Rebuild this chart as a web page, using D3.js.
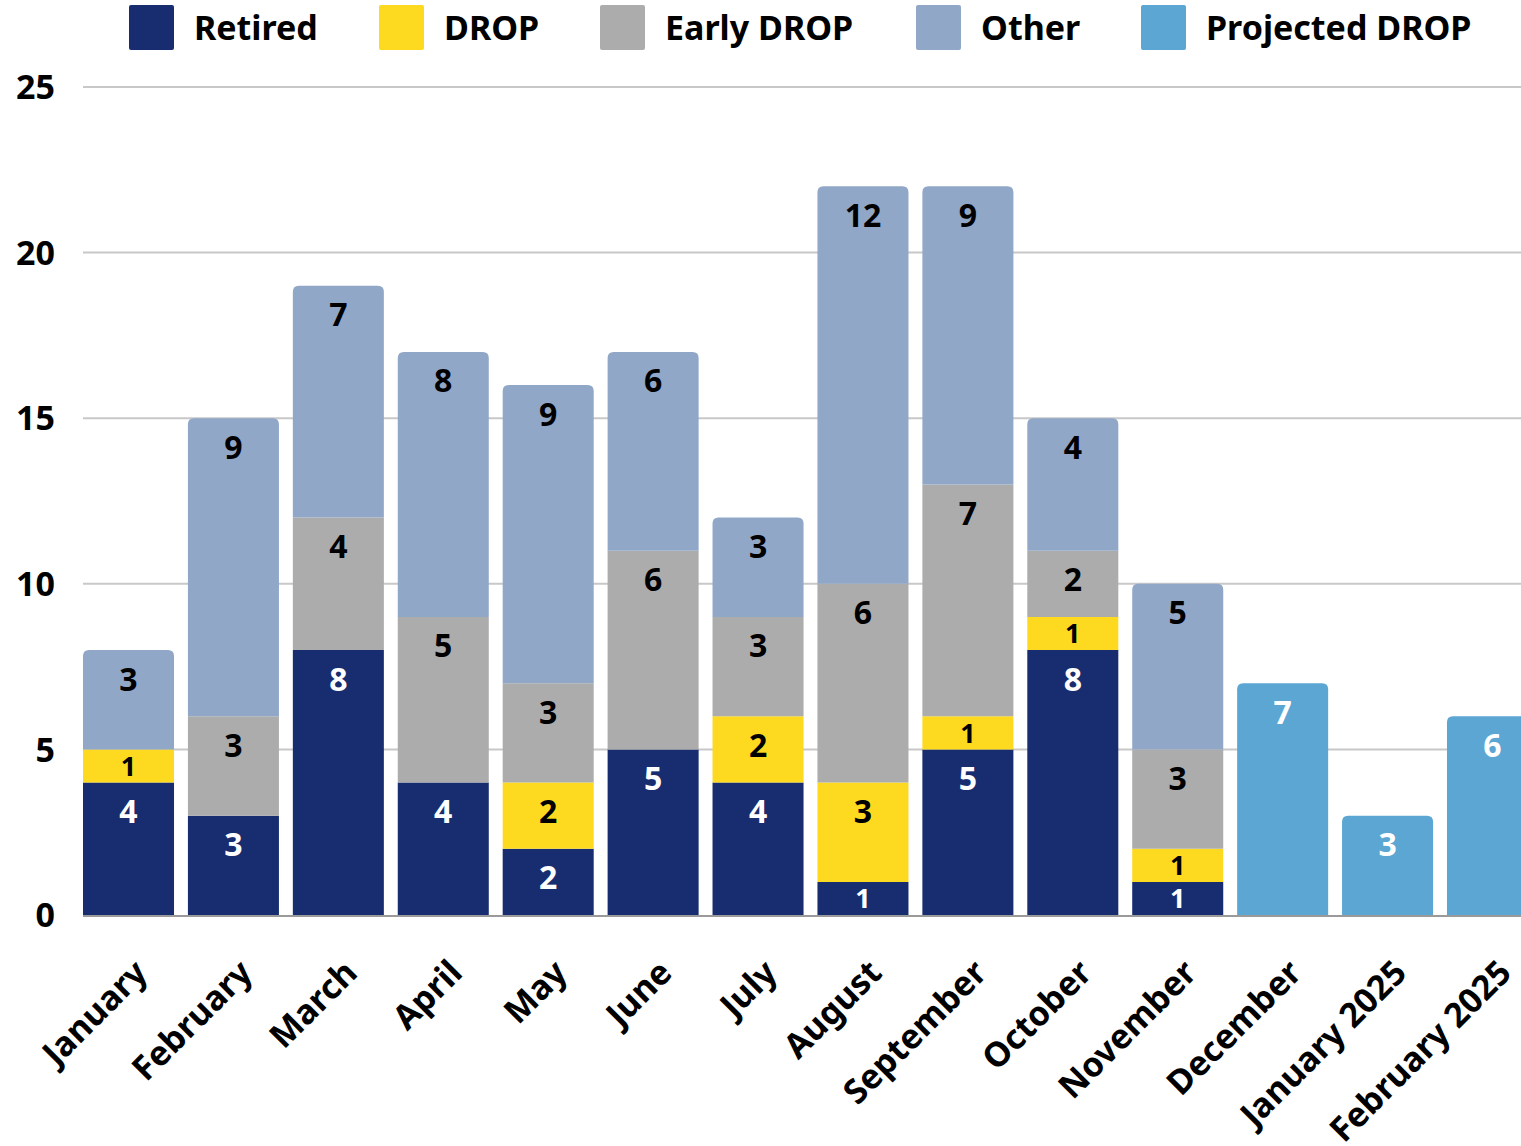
<!DOCTYPE html>
<meta charset="utf-8">
<style>
    body { margin: 0; background: #fff; }
    svg text { font-family: "Noto Sans", "Open Sans", sans-serif; font-weight: 700; }
</style>
<svg width="1521" height="1146"></svg>
<script src="https://d3js.org/d3.v7.min.js"></script>
<script>
    // months along the x axis
    var months = ["January", "February", "March", "April", "May", "June", "July",
        "August", "September", "October", "November", "December", "January 2025", "February 2025"];

    // series values, one per month
    var retired   = [4, 3, 8, 4, 2, 5, 4, 1, 5, 8, 1, 0, 0, 0];
    var drop      = [1, 0, 0, 0, 2, 0, 2, 3, 1, 1, 1, 0, 0, 0];
    var earlyDrop = [0, 3, 4, 5, 3, 6, 3, 6, 7, 2, 3, 0, 0, 0];
    var other     = [3, 9, 7, 8, 9, 6, 3, 12, 9, 4, 5, 0, 0, 0];
    var projected = [0, 0, 0, 0, 0, 0, 0, 0, 0, 0, 0, 7, 3, 6];

    var yTicks = [0, 5, 10, 15, 20, 25];

    var seriesNames = ["Retired", "DROP", "Early DROP", "Other", "Projected DROP"];
    var seriesColors = ["#172d6f", "#fdd91f", "#acacac", "#91a7c8", "#5ba6d2"];
    var labelColors = ["#fff", "#000", "#000", "#000", "#fff"];

    // build table for d3.stack
    var table = months.map(function (m, i) {
        return {
            month: m,
            "Retired": retired[i],
            "DROP": drop[i],
            "Early DROP": earlyDrop[i],
            "Other": other[i],
            "Projected DROP": projected[i]
        };
    });

    var svg = d3.select("svg"),
        width = +svg.attr("width"),
        height = +svg.attr("height");

    var plotLeft = 83, plotTop = 87, plotBottom = 915;

    var x = d3.scaleBand()
        .domain(months)
        .range([plotLeft, 1538])
        .paddingInner(0.1325)
        .paddingOuter(0)
        .align(0);

    var y = d3.scaleLinear().domain([0, 25]).range([plotBottom, plotTop]);

    // gridlines
    svg.append("g")
        .selectAll("line")
        .data(yTicks.filter(function (d) { return d > 0; }))
        .enter()
        .append("line")
        .attr("x1", plotLeft)
        .attr("x2", width)
        .attr("y1", function (d) { return y(d); })
        .attr("y2", function (d) { return y(d); })
        .attr("stroke", "#c8c8c8")
        .attr("stroke-width", 2);

    // y tick labels
    svg.append("g")
        .selectAll("text")
        .data(yTicks)
        .enter()
        .append("text")
        .attr("x", 55)
        .attr("y", function (d) { return y(d); })
        .attr("dy", "0.36em")
        .attr("text-anchor", "end")
        .style("font-size", "34px")
        .text(function (d) { return d; });

    var stacked = d3.stack().keys(seriesNames)(table);

    // which series is topmost in each month (gets rounded corners)
    var topKey = table.map(function (row) {
        var k = null;
        seriesNames.forEach(function (s) { if (row[s] > 0) k = s; });
        return k;
    });

    function barPath(x0, y0, w, h, r) {
        r = Math.min(r, h / 2);
        return "M" + x0 + "," + (y0 + h) +
            "V" + (y0 + r) +
            "Q" + x0 + "," + y0 + " " + (x0 + r) + "," + y0 +
            "H" + (x0 + w - r) +
            "Q" + (x0 + w) + "," + y0 + " " + (x0 + w) + "," + (y0 + r) +
            "V" + (y0 + h) + "Z";
    }

    var segs = [];
    stacked.forEach(function (layer, li) {
        layer.forEach(function (d, i) {
            if (d[1] - d[0] > 0) {
                segs.push({
                    key: layer.key, li: li, month: months[i],
                    y0: d[0], y1: d[1], value: d[1] - d[0],
                    rounded: topKey[i] === layer.key
                });
            }
        });
    });

    var defs = svg.append("defs");
    segs.forEach(function (s, i) {
        defs.append("clipPath").attr("id", "clip" + i)
            .append("rect")
            .attr("x", x(s.month))
            .attr("y", y(s.y1))
            .attr("width", x.bandwidth())
            .attr("height", y(s.y0) - y(s.y1));
    });

    var bars = svg.append("g");
    bars.selectAll("path")
        .data(segs)
        .enter()
        .append("path")
        .attr("d", function (s) {
            var h = y(s.y0) - y(s.y1);
            return barPath(x(s.month), y(s.y1), x.bandwidth(), h, s.rounded ? 6 : 0);
        })
        .attr("fill", function (s) { return seriesColors[s.li]; });

    // baseline
    svg.append("line")
        .attr("x1", plotLeft).attr("x2", width)
        .attr("y1", plotBottom + 1).attr("y2", plotBottom + 1)
        .attr("stroke", "#9a9a9a")
        .attr("stroke-width", 2);

    // segment labels
    bars.selectAll("text")
        .data(segs)
        .enter()
        .append("text")
        .attr("clip-path", function (s, i) { return "url(#clip" + i + ")"; })
        .attr("x", function (s) { return x(s.month) + x.bandwidth() / 2; })
        .attr("y", function (s) {
            var h = y(s.y0) - y(s.y1);
            return y(s.y1) + Math.min(29, h * 0.5);
        })
        .attr("dy", "0.36em")
        .attr("text-anchor", "middle")
        .style("font-size", function (s) { return s.value === 1 ? "27px" : "32px"; })
        .attr("fill", function (s) { return labelColors[s.li]; })
        .text(function (s) { return s.value; });

    // x labels, rotated
    svg.append("g")
        .selectAll("text")
        .data(months)
        .enter()
        .append("text")
        .attr("text-anchor", "end")
        .attr("transform", function (m) {
            return "translate(" + (x(m) + x.bandwidth() / 2 + 4) + ",958) rotate(-45)";
        })
        .attr("dy", "0.7em")
        .style("font-size", "34px")
        .text(function (m) { return m; });

    // legend
    var legendX = [129, 379, 600, 916, 1141];
    var legend = svg.append("g")
        .selectAll("g")
        .data(seriesNames)
        .enter()
        .append("g")
        .attr("transform", function (d, i) { return "translate(" + legendX[i] + ",5)"; });

    legend.append("rect")
        .attr("width", 45).attr("height", 45).attr("rx", 2)
        .attr("fill", function (d, i) { return seriesColors[i]; });

    legend.append("text")
        .attr("x", 65)
        .attr("y", 22.5)
        .attr("dy", "0.36em")
        .style("font-size", "34px")
        .text(function (d) { return d; });
</script>
